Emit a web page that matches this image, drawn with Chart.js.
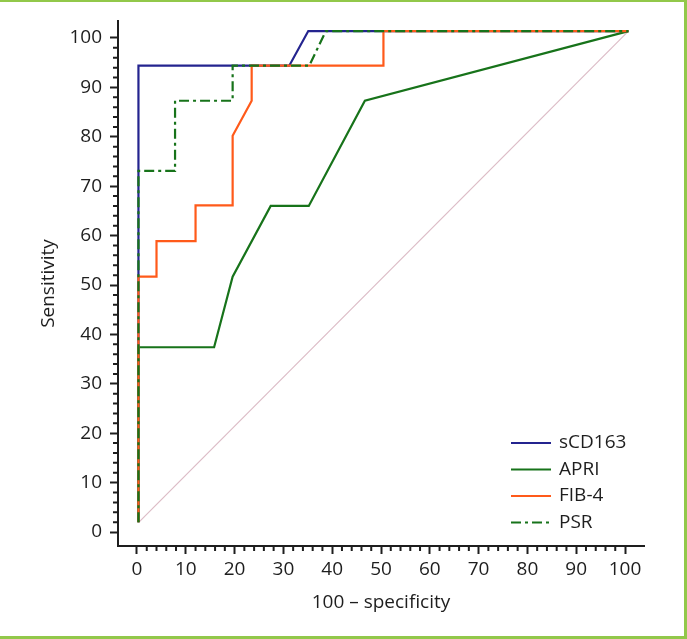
<!DOCTYPE html>
<html>
<head>
<meta charset="utf-8">
<script src="https://cdn.jsdelivr.net/npm/chart.js@4.4.1/dist/chart.umd.min.js"></script>
<style>
  html, body { margin: 0; padding: 0; background: #fff; }
  #wrap { position: relative; width: 687px; height: 639px; }
  #frame {
    position: absolute; left: 0; top: 0; width: 687px; height: 639px;
    box-sizing: border-box; pointer-events: none;
    border-top: 2px solid #92c84a; border-right: 3px solid #92c84a; border-bottom: 3px solid #92c84a;
  }
</style>
</head>
<body>
<div id="wrap">
  <canvas id="roc" width="687" height="639"></canvas>
  <div id="frame"></div>
</div>
<script>
// values (100 - specificity, sensitivity)
const sCD163X = [0.3, 0.3, 31.2, 35.1, 100.7];
const sCD163Y = [2, 94.4, 94.4, 101.4, 101.4];

const apriX = [0.3, 0.3, 15.8, 19.6, 27.4, 35.2, 46.7, 100.7];
const apriY = [2, 37.4, 37.4, 51.7, 66.0, 66.0, 87.3, 101.4];

const fib4X = [0.3, 0.3, 4.0, 4.0, 12.0, 12.0, 19.6, 19.6, 23.5, 23.5, 50.5, 50.5, 100.7];
const fib4Y = [2, 51.7, 51.7, 58.9, 58.9, 66.1, 66.1, 80.2, 87.3, 94.4, 94.4, 101.4, 101.4];

const psrX = [0.3, 0.3, 7.8, 7.8, 19.6, 19.6, 35.3, 38.7, 100.7];
const psrY = [2, 73.1, 73.1, 87.3, 87.3, 94.4, 94.4, 101.4, 101.4];

const refX = [0.4, 100.7];
const refY = [2, 101.4];

const majorTicks = [0, 10, 20, 30, 40, 50, 60, 70, 80, 90, 100];
const minorTicks = [2, 4, 6, 8, 12, 14, 16, 18, 22, 24, 26, 28, 32, 34, 36, 38, 42, 44, 46, 48,
  52, 54, 56, 58, 62, 64, 66, 68, 72, 74, 76, 78, 82, 84, 86, 88, 92, 94, 96, 98];

const FONT = '"Open Sans", "Noto Sans", sans-serif';
const INK = '#1e1e1e';

function pts(xs, ys) {
  return xs.map((x, i) => ({ x: x, y: ys[i] }));
}

function series(label, xs, ys, color, dash, order) {
  return {
    label: label,
    data: pts(xs, ys),
    borderColor: color,
    backgroundColor: color,
    borderWidth: 2.2,
    borderDash: dash,
    pointRadius: 0,
    tension: 0,
    fill: false,
    order: order
  };
}

// short minor ticks, placed with the scales themselves
const minorTickPlugin = {
  id: 'minorTicks',
  afterDraw(chart) {
    const ctx = chart.ctx;
    const xs = chart.scales.x, ys = chart.scales.y;
    const area = chart.chartArea;
    ctx.save();
    ctx.strokeStyle = INK;
    ctx.lineWidth = 2;
    ctx.beginPath();
    for (const v of minorTicks) {
      const px = xs.getPixelForValue(v);
      ctx.moveTo(px, area.bottom);
      ctx.lineTo(px, area.bottom + 5);
      const py = ys.getPixelForValue(v);
      ctx.moveTo(area.left, py);
      ctx.lineTo(area.left - 5, py);
    }
    ctx.stroke();
    ctx.restore();
  }
};

// legend in the lower right of the plot
const boxLegendPlugin = {
  id: 'boxLegend',
  afterDraw(chart) {
    const ctx = chart.ctx;
    const area = chart.chartArea;
    const items = chart.data.datasets.filter(d => d.label);
    const x0 = area.right - 133;
    let y = area.bottom - 103;
    ctx.save();
    ctx.font = '19px ' + FONT;
    ctx.textBaseline = 'middle';
    ctx.fillStyle = INK;
    for (const d of items) {
      ctx.strokeStyle = d.borderColor;
      ctx.lineWidth = 2.2;
      ctx.setLineDash(d.borderDash || []);
      ctx.beginPath();
      ctx.moveTo(x0, y);
      ctx.lineTo(x0 + 40, y);
      ctx.stroke();
      ctx.setLineDash([]);
      ctx.fillText(d.label, x0 + 48, y);
      y += 26.5;
    }
    ctx.restore();
  }
};

new Chart(document.getElementById('roc'), {
  type: 'line',
  data: {
    datasets: [
      series('sCD163', sCD163X, sCD163Y, '#24248f', [], 3),
      series('APRI', apriX, apriY, '#17731a', [], 2),
      series('FIB-4', fib4X, fib4Y, '#ff5a1a', [], 1),
      series('PSR', psrX, psrY, '#17731a', [10, 4, 3, 4], 0),
      {
        label: '',
        data: pts(refX, refY),
        borderColor: '#dcbcc6',
        borderWidth: 1.2,
        pointRadius: 0,
        tension: 0,
        order: 4
      }
    ]
  },
  options: {
    responsive: false,
    animation: false,
    layout: { padding: { top: 21, right: 43, left: 0, bottom: 0 } },
    plugins: {
      legend: { display: false },
      tooltip: { enabled: false }
    },
    scales: {
      x: {
        type: 'linear',
        min: -3.89,
        max: 103.89,
        afterBuildTicks: (scale) => { scale.ticks = majorTicks.map(v => ({ value: v })); },
        afterFit: (scale) => { scale.height = 93; },
        border: { display: true, color: INK, width: 2 },
        grid: { drawOnChartArea: false, drawTicks: true, tickLength: 8, tickColor: INK, tickWidth: 2 },
        ticks: { color: INK, padding: 4, font: { family: FONT, size: 19 }, maxRotation: 0, autoSkip: false },
        title: {
          display: true,
          text: '100 – specificity',
          color: INK,
          font: { family: FONT, size: 19 },
          padding: { top: 0, bottom: 25 }
        }
      },
      y: {
        type: 'linear',
        min: -2.83,
        max: 103.44,
        afterBuildTicks: (scale) => { scale.ticks = majorTicks.map(v => ({ value: v })); },
        afterFit: (scale) => { scale.width = 118; },
        border: { display: true, color: INK, width: 2 },
        grid: { drawOnChartArea: false, drawTicks: true, tickLength: 8, tickColor: INK, tickWidth: 2 },
        ticks: { color: INK, padding: 8, font: { family: FONT, size: 19 }, autoSkip: false },
        title: {
          display: true,
          text: 'Sensitivity',
          color: INK,
          font: { family: FONT, size: 19 },
          padding: { top: 37, bottom: 0 }
        }
      }
    }
  },
  plugins: [minorTickPlugin, boxLegendPlugin]
});
</script>
</body>
</html>
